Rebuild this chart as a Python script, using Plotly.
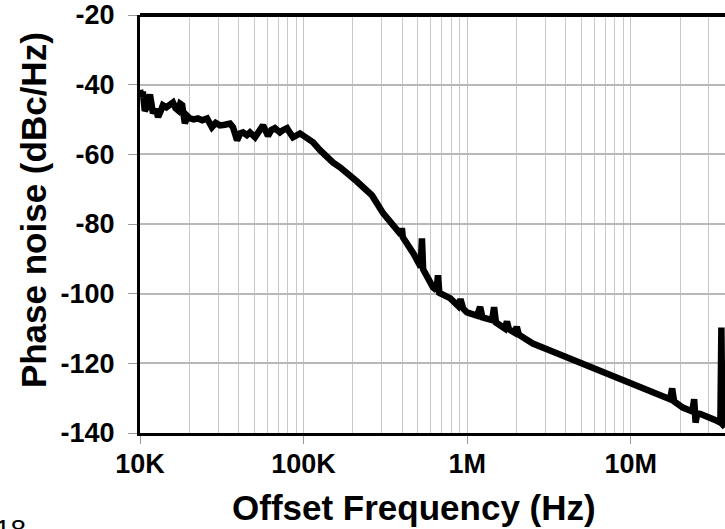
import plotly.graph_objects as go

# Offset frequency (Hz) and phase noise (dBc/Hz)
freq_hz = [
    10000, 10200, 10400, 10700, 11000, 11300, 11500, 11800, 12000, 12500,
    12900, 13400, 13800, 14500, 15300, 15900, 16500, 17100, 17600, 18100,
    18800, 19500, 20200, 21300, 22600, 24000, 25700, 27500, 29000, 30800,
    33000, 35500, 37000, 39200, 41000, 42600, 45000, 47000, 50500, 53000,
    56500, 60600, 63500, 66800, 71700, 75000, 79200, 83000, 86100, 95100,
    105000, 114000, 126000, 139000, 151000, 167000, 192000, 212000, 262000, 306000,
    388000, 394000, 399000, 404000, 470000, 520000, 529000, 538000, 618000, 650000,
    663000, 676000, 786000, 880000, 910000, 945000, 997000, 1150000, 1200000, 1240000,
    1420000, 1460000, 1500000, 1700000, 1750000, 1800000, 1950000, 2010000, 2070000, 2520000,
    3210000, 4070000, 5100000, 6480000, 8240000, 10300000, 13100000, 16600000, 17400000, 17900000,
    18400000, 20800000, 23800000, 24400000, 24900000, 25500000, 26500000, 33600000, 35300000, 35800000,
    36300000, 37700000,
]
noise_dbc = [
    -41.5, -43.5, -42.0, -47.5, -46.5, -44.5, -42.8, -46.0, -48.2, -47.0,
    -49.3, -47.5, -45.9, -46.5, -45.9, -45.1, -46.8, -47.4, -45.5, -45.9,
    -51.1, -49.0, -49.7, -50.0, -49.7, -50.2, -49.7, -52.2, -51.0, -51.7,
    -51.5, -51.2, -52.2, -56.0, -54.0, -53.7, -54.5, -53.7, -55.1, -53.5,
    -51.7, -54.7, -53.0, -52.5, -53.7, -53.0, -52.5, -54.0, -55.1, -54.0,
    -55.4, -56.5, -58.8, -60.9, -62.3, -63.7, -66.0, -67.8, -71.8, -76.9,
    -82.7, -83.2, -81.2, -83.8, -88.5, -92.3, -84.1, -93.0, -98.2, -99.0,
    -94.7, -99.8, -101.3, -103.5, -101.6, -104.3, -105.4, -106.3, -103.8, -106.8,
    -107.6, -103.9, -108.3, -110.0, -108.0, -110.2, -111.2, -109.5, -111.8, -114.3,
    -116.3, -118.3, -120.0, -122.1, -124.1, -125.8, -127.8, -129.8, -130.3, -127.2,
    -130.9, -132.7, -133.8, -130.3, -137.0, -134.3, -134.5, -136.5, -137.0, -109.7,
    -137.5, -138.3,
]

x_tick_vals = [1e4, 1e5, 1e6, 1e7]
x_tick_text = ["10K", "100K", "1M", "10M"]
x_minor_vals = [m * d for d in (1e4, 1e5, 1e6, 1e7) for m in range(2, 10)]
y_tick_vals = [-140, -120, -100, -80, -60, -40, -20]
y_tick_text = ["-140", "-120", "-100", "-80", "-60", "-40", "-20"]

FONT = "Liberation Sans"

fig = go.Figure()
fig.add_trace(go.Scatter(
    x=freq_hz, y=noise_dbc, mode="lines",
    line=dict(color="black", width=6.5),
    showlegend=False, hoverinfo="skip",
))

fig.update_layout(
    width=725, height=529,
    margin=dict(l=140, r=0, t=15, b=96, autoexpand=False),
    paper_bgcolor="white", plot_bgcolor="white",
    font=dict(family=FONT, color="black"),
    xaxis=dict(
        type="log", range=[4, 7.576],
        tickvals=x_tick_vals, ticktext=x_tick_text,
        tickfont=dict(family=FONT, size=27, weight="bold", color="black"),
        ticks="outside", ticklen=8, tickcolor="#999999", tickwidth=1,
        ticklabelstandoff=-3, ticklabeloverflow="allow",
        showgrid=True, gridcolor="#c4c4c4", gridwidth=1,
        minor=dict(tickvals=x_minor_vals, showgrid=True, gridcolor="#c8c8c8",
                   gridwidth=1, ticks=""),
        showline=True, linecolor="black", linewidth=3,
        zeroline=False,
    ),
    yaxis=dict(
        range=[-140, -20], tickvals=y_tick_vals, ticktext=y_tick_text,
        tickfont=dict(family=FONT, size=27, weight="bold", color="black"),
        ticks="outside", ticklen=9, tickcolor="#999999", tickwidth=1,
        ticklabelstandoff=8, ticklabeloverflow="allow",
        showgrid=True, gridcolor="#b8b8b8", gridwidth=1.5,
        showline=True, linecolor="black", linewidth=3,
        zeroline=False,
    ),
    shapes=[dict(type="line", xref="paper", yref="paper", x0=0, x1=1, y0=1, y1=1,
                 line=dict(color="black", width=4))],
    annotations=[
        dict(text="Offset Frequency (Hz)", xref="paper", yref="paper",
             x=0.468, y=-0.178, xanchor="center", yanchor="middle", showarrow=False,
             font=dict(family=FONT, size=35, weight="bold", color="black")),
        dict(text="Phase noise (dBc/Hz)", xref="paper", yref="paper",
             x=-0.181, y=0.5335, xanchor="center", yanchor="middle", showarrow=False,
             textangle=-90,
             font=dict(family=FONT, size=35, weight="bold", color="black")),
        dict(text="18", xref="paper", yref="paper",
             x=-0.251, y=-0.19, xanchor="left", yanchor="top", showarrow=False,
             font=dict(family=FONT, size=28, color="black")),
    ],
)

fig.write_html(
    "out.html",
    config={"displayModeBar": False},
    post_script="document.body.style.margin='0';document.body.style.overflow='hidden';",
)
